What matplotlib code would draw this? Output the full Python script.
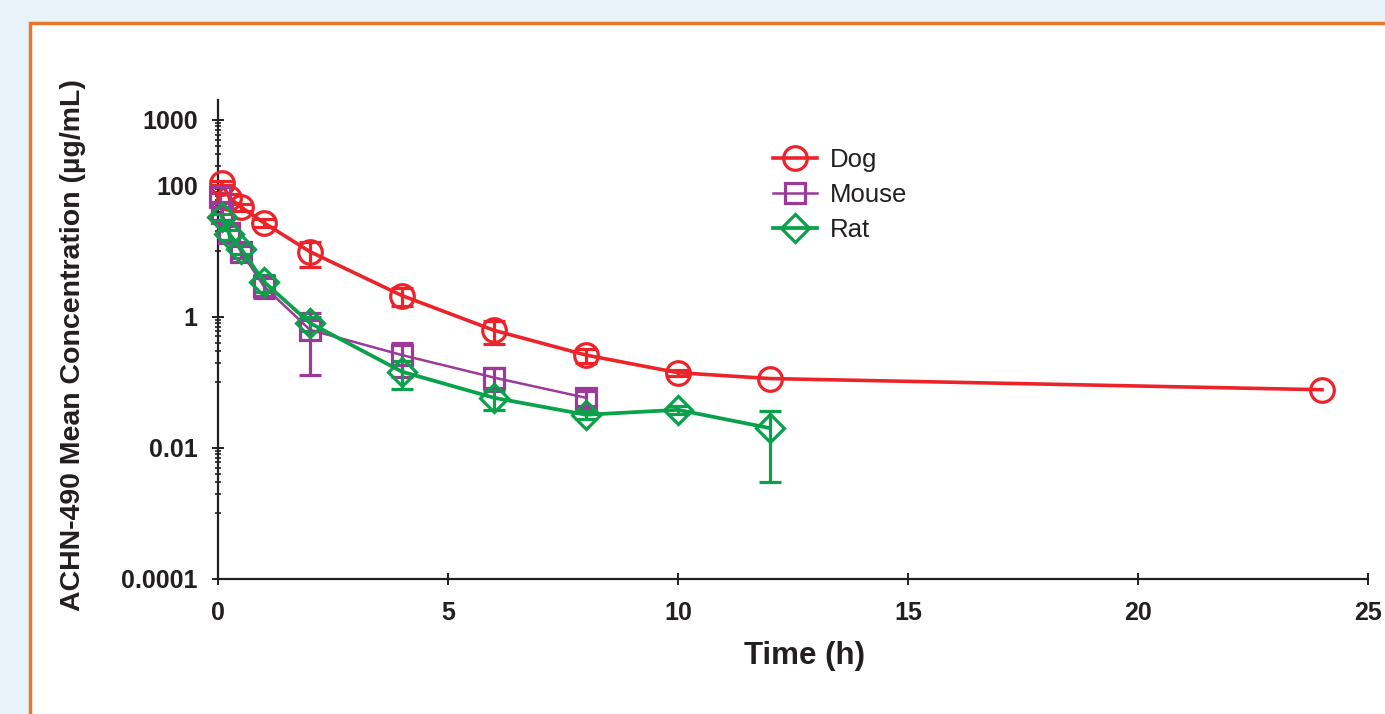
import matplotlib
matplotlib.use('Agg')
from matplotlib import pyplot as plt
from matplotlib.patches import Rectangle
from matplotlib.lines import Line2D
from matplotlib.ticker import FixedLocator, NullFormatter

dog_t = [0.083, 0.25, 0.5, 1, 2, 4, 6, 8, 10, 12, 24]
dog_c = [110, 65, 47, 27, 9.8, 2.1, 0.62, 0.26, 0.14, 0.114, 0.077]
dog_sd = [8, 10, 6, 4, 4, 0.65, 0.24, 0.06, 0.015, 0.0, 0.0]

mouse_t = [0.05, 0.083, 0.25, 0.5, 1, 2, 4, 6, 8]
mouse_c = [67, 38, 19, 9.8, 2.9, 0.63, 0.26, 0.118, 0.058]
mouse_sd = [10, 8, 5, 2, 1.0, 0.5, 0.14, 0.045, 0.015]

rat_t = [0.083, 0.25, 0.5, 1, 2, 4, 6, 8, 10, 12]
rat_c = [33, 18, 10.9, 3.4, 0.8, 0.145, 0.058, 0.032, 0.038, 0.020]
rat_sd = [4, 3, 2, 1.0, 0.2, 0.065, 0.02, 0.004, 0.005, 0.017]

x_ticks = [0, 5, 10, 15, 20, 25]
y_ticks = [0.0001, 0.01, 1, 100, 1000]
y_ticklabels = ['0.0001', '0.01', '1', '100', '1000']

ink = '#231F20'
plt.rcParams['font.family'] = ['Liberation Sans', 'DejaVu Sans']

fig = plt.figure(figsize=(13.85, 7.14), dpi=100, facecolor='#EAF3F9')
fig.patches.append(Rectangle((30 / 1385, -0.05), 1.1, 1 - 23 / 714 + 0.05,
                             transform=fig.transFigure, facecolor='white',
                             edgecolor='#E8792B', linewidth=2.5, zorder=-10))

ax = fig.add_axes([218 / 1385, 1 - 579 / 714, 1150 / 1385, 479 / 714])
ax.set_facecolor('none')

series = [
    ('Dog', dog_t, dog_c, dog_sd, '#EC2329', 'o', 17, 2.6),
    ('Mouse', mouse_t, mouse_c, mouse_sd, '#9B3A98', 's', 15, 1.8),
    ('Rat', rat_t, rat_c, rat_sd, '#0AA14B', 'D', 14, 2.7),
]
handles = []
for name, t, c, sd, col, mk, ms, lw in series:
    keep = [i for i in range(len(t)) if sd[i] > 0]
    ax.errorbar([t[i] for i in keep], [c[i] for i in keep],
                yerr=[sd[i] for i in keep], fmt='none', ecolor=col,
                elinewidth=2.3, capsize=8, capthick=2.3, zorder=3,
                clip_on=False)
    ax.plot(t, c, color=col, lw=lw, marker=mk, ms=ms, mfc='none',
            mec=col, mew=2.3, zorder=4, clip_on=False)
    handles.append(Line2D([], [], color=col, lw=lw, marker=mk, ms=ms,
                          mfc='none', mec=col, mew=2.3))

ax.set_yscale('log')
ax.set_xlim(0, 25)
ax.set_ylim(1e-4, 10 ** (3 + 20 / 65.6))
ax.set_xticks(x_ticks)
ax.set_xticklabels([str(v) for v in x_ticks])
ax.yaxis.set_major_locator(FixedLocator(y_ticks))
ax.set_yticklabels(y_ticklabels)
minor = [m * k / 10 for m in [1000, 100, 1, 0.01] for k in range(1, 10)]
ax.yaxis.set_minor_locator(FixedLocator(minor))
ax.yaxis.set_minor_formatter(NullFormatter())

for s in ['top', 'right']:
    ax.spines[s].set_visible(False)
for s in ['left', 'bottom']:
    ax.spines[s].set_linewidth(1.6)
    ax.spines[s].set_color(ink)
ax.tick_params(axis='both', which='major', direction='inout', length=9,
               width=1.4, colors=ink, labelsize=18)
ax.tick_params(axis='y', which='major', pad=10)
ax.tick_params(axis='x', which='major', pad=11)
ax.tick_params(axis='y', which='minor', direction='inout', length=5,
               width=1.2, colors=ink)
for lab in ax.get_xticklabels() + ax.get_yticklabels():
    lab.set_fontweight('bold')

fig.text(804 / 1385, 1 - 656 / 714, 'Time (h)', ha='center', va='center',
         fontsize=22.5, fontweight='bold', color=ink)
fig.text(73 / 1385, 1 - 345 / 714, 'ACHN-490 Mean Concentration (µg/mL)',
         rotation=90, ha='center', va='center', fontsize=20.5,
         fontweight='bold', color=ink)

leg = ax.legend(handles, ['Dog', 'Mouse', 'Rat'], loc='upper left',
                bbox_to_anchor=((773 - 218) / 1150, (579 - 148) / 479),
                frameon=False, fontsize=18.5, handlelength=1.7,
                handletextpad=0.5, labelspacing=0.42, borderpad=0,
                borderaxespad=0)
for txt in leg.get_texts():
    txt.set_color(ink)

fig.savefig('out.png', dpi=100, facecolor=fig.get_facecolor())
